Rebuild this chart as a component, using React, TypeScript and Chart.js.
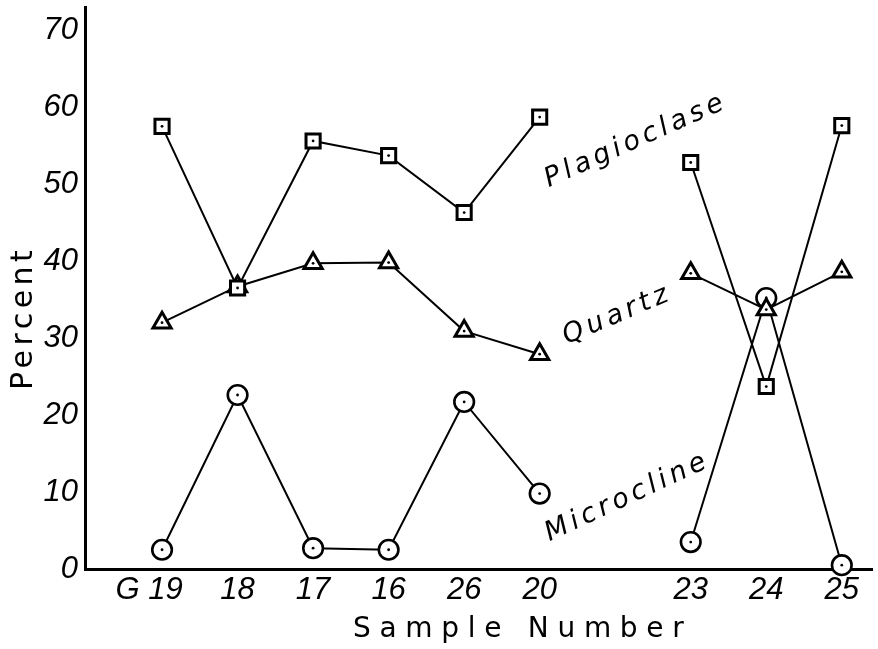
import React, { useEffect, useRef } from 'react';
import { Chart, registerables } from 'chart.js';

Chart.register(...registerables);

// ---- data ----
const sampleLabels = ['G 19', '18', '17', '16', '26', '20', '', '23', '24', '25']; // '' = gap (no sample)
const plagioclase = [57.5, 36.5, 55.6, 53.7, 46.3, 58.7, null, 52.8, 23.7, 57.6];
const quartz = [32.0, 36.7, 39.7, 39.8, 30.9, 27.9, null, 38.4, 33.7, 38.6];
const microcline = [2.5, 22.6, 2.7, 2.5, 21.7, 9.8, null, 3.5, 35.2, 0.5];
const yTicks = [0, 10, 20, 30, 40, 50, 60, 70];
const seriesNames = ['Plagioclase', 'Quartz', 'Microcline'];
const xTitle = 'Sample Number';
const yTitle = 'Percent';

const TICK_FONT = "'Liberation Sans Narrow', 'Liberation Sans', Arial, sans-serif";
const TEXT_FONT = "'DejaVu Sans', Verdana, sans-serif";

const toPoints = (arr: (number | null)[]) => arr.map((v, i) => ({ x: i, y: v }));

const annotatePlugin = {
  id: 'annotate',
  afterDatasetDraw(chart: any, args: any) {
    const ctx = chart.ctx;
    ctx.save();
    ctx.fillStyle = '#000';
    for (const el of args.meta.data) {
      if (el.skip) continue;
      ctx.beginPath();
      ctx.arc(el.x, el.y, 1.4, 0, Math.PI * 2);
      ctx.fill();
    }
    ctx.restore();
  },
  afterDraw(chart: any) {
    const ctx = chart.ctx;
    const xs = chart.scales.x;
    const ys = chart.scales.y;
    ctx.save();
    ctx.fillStyle = '#000';
    // series labels, anchored in data units
    const anchors = [
      { x: 5.12, y: 49.6, a: -24 },
      { x: 5.36, y: 29.2, a: -23 },
      { x: 5.13, y: 3.6, a: -25 },
    ];
    ctx.font = `oblique 27px ${TEXT_FONT}`;
    (ctx as any).letterSpacing = '4.2px';
    ctx.textAlign = 'left';
    ctx.textBaseline = 'alphabetic';
    seriesNames.forEach((name, i) => {
      const an = anchors[i];
      ctx.save();
      ctx.translate(xs.getPixelForValue(an.x), ys.getPixelForValue(an.y));
      ctx.rotate((an.a * Math.PI) / 180);
      ctx.fillText(name, 0, 0);
      ctx.restore();
    });
    // axis titles
    ctx.font = `28px ${TEXT_FONT}`;
    (ctx as any).letterSpacing = '8.7px';
    ctx.fillText(xTitle, 353, 637);
    ctx.font = `30px ${TEXT_FONT}`;
    (ctx as any).letterSpacing = '4.5px';
    ctx.save();
    ctx.translate(32, 390);
    ctx.rotate(-Math.PI / 2);
    ctx.fillText(yTitle, 0, 0);
    ctx.restore();
    ctx.restore();
  },
};

export default function App() {
  const ref = useRef<HTMLCanvasElement | null>(null);

  useEffect(() => {
    if (!ref.current) return;
    const common = {
      borderColor: '#000',
      borderWidth: 2,
      pointBackgroundColor: '#fff',
      pointBorderColor: '#000',
      showLine: true,
      spanGaps: false,
      tension: 0,
      fill: false,
      clip: false,
    };
    const chart = new Chart(ref.current, {
      type: 'line',
      data: {
        datasets: [
          { ...common, label: seriesNames[0], data: toPoints(plagioclase), pointStyle: 'rect', pointRadius: 10, pointBorderWidth: 3 },
          { ...common, label: seriesNames[1], data: toPoints(quartz), pointStyle: 'triangle', pointRadius: 10.5, pointBorderWidth: 3 },
          { ...common, label: seriesNames[2], data: toPoints(microcline), pointStyle: 'circle', pointRadius: 9.8, pointBorderWidth: 2.6 },
        ] as any,
      },
      options: {
        animation: false,
        responsive: false,
        devicePixelRatio: 1,
        layout: { autoPadding: false, padding: { left: 0, right: 6, top: 7, bottom: 0 } },
        plugins: {
          legend: { display: false },
          tooltip: { enabled: false },
          title: { display: false },
        },
        scales: {
          x: {
            type: 'linear',
            min: -1.02,
            max: 9.4,
            grid: { display: false, drawTicks: false },
            border: { display: true, color: '#000', width: 3 },
            ticks: {
              color: '#000',
              font: { family: TICK_FONT, size: 31, style: 'italic' },
              padding: 3,
              autoSkip: false,
              maxRotation: 0,
              callback: (v: any) => {
                const l = sampleLabels[v as number] ?? '';
                return l.startsWith('G') ? l + '   ' : l;
              },
            },
            afterBuildTicks: (s: any) => {
              s.ticks = sampleLabels
                .map((l, i) => ({ value: i, l }))
                .filter((t) => t.l !== '')
                .map((t) => ({ value: t.value }));
            },
            afterFit: (s: any) => {
              s.height = 80;
              s.paddingLeft = 0;
              s.paddingRight = 0;
            },
          },
          y: {
            type: 'linear',
            min: 0,
            max: 73,
            grid: { display: false, drawTicks: false },
            border: { display: true, color: '#000', width: 3 },
            ticks: {
              color: '#000',
              font: { family: TICK_FONT, size: 31, style: 'italic' },
              padding: 7,
            },
            afterBuildTicks: (s: any) => {
              s.ticks = yTicks.map((v) => ({ value: v }));
            },
            afterFit: (s: any) => {
              s.width = 85;
              s.paddingTop = 0;
              s.paddingBottom = 0;
            },
          },
        },
      } as any,
      plugins: [annotatePlugin],
    });
    return () => chart.destroy();
  }, []);

  return (
    <div style={{ position: 'absolute', left: 0, top: 0, width: 878, height: 649, background: '#fff' }}>
      <canvas ref={ref} width={878} height={649} style={{ display: 'block' }} />
    </div>
  );
}
